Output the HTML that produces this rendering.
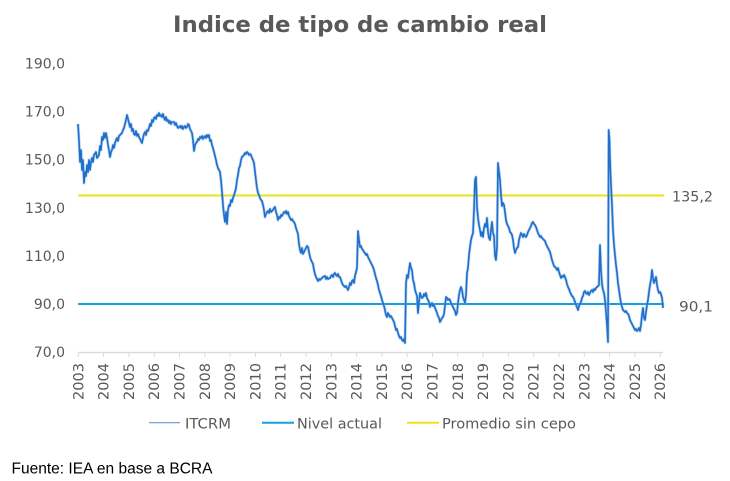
<!DOCTYPE html>
<html><head><meta charset="utf-8"><style>
html,body{margin:0;padding:0;background:#fff;}
svg{display:block;}
text{font-family:"DejaVu Sans","Liberation Sans",sans-serif;fill:#595959;}
</style></head><body>
<svg width="730" height="481" viewBox="0 0 730 481" xmlns="http://www.w3.org/2000/svg">
<defs>
<polyline id="s" points="78,124 79,140 80,162 81,150 82,170 83,160 84,183 85,172 86,176 87,165 88,172 89,160 90,170 91,162 92,158 93,162 94,155 96,152 97,158 99,155 100,146 101,150 102,137 103,140 104,133 105,138 106,133 107,138 108,145 109,150 110,157 111,152 112,150 113,145 114,148 115,143 116,140 117,138 118,141 119,136 120,135 122,133 123,130 124,128 125,124 126,120 127,115 128,119 129,123 130,127 131,124 132,131 133,129 134,134 135,135 136,131 137,136 138,134 139,137 140,139 141,141 142,143 143,138 144,134 145,132 146,135 147,130 148,131 149,128 150,124 151,126 152,120 153,122 154,118 155,117 156,119 157,115 158,116 159,113 160,116 161,115 162,117 163,114 164,118 165,120 166,117 167,121 168,120 169,123 170,121 171,124 172,122 174,122 175,125 176,123 177,126 178,128 179,127 180,126 181,128 182,126 183,129 184,127 185,126 186,128 187,127 188,124 189,125 190,129 191,131 192,133 193,140 194,151 195,145 196,143 197,142 198,139 199,140 200,137 201,138 202,136 203,139 204,137 205,136 206,138 207,135 208,137 209,135 210,141 211,140 212,145 213,148 214,152 215,156 216,160 217,165 218,168 219,170 220,172 221,180 222,192 223,205 224,215 225,222 226,212 227,224 228,210 229,205 230,206 231,200 232,202 233,198 234,195 235,192 236,188 237,180 238,175 239,168 240,166 241,160 242,157 243,156 244,155 245,153 246,154 247,152 248,153 249,155 250,154 251,155 252,158 253,160 254,163 255,172 256,180 257,188 258,193 259,195 260,198 261,200 262,201 263,205 264,210 265,217 266,214 267,212 268,211 269,213 270,209 271,212 272,211 273,210 274,208 275,207 276,212 277,215 278,220 279,217 280,218 281,215 282,216 283,214 284,212 285,213 286,211 287,214 288,212 289,216 290,218 291,220 292,219 293,221 294,222 295,224 296,228 297,231 298,234 299,244 300,250 301,253 302,248 303,254 304,252 305,250 306,248 307,246 308,247 309,252 310,257 311,260 312,262 313,264 314,270 315,274 316,277 317,279 318,281 319,279 320,280 322,278 323,277 325,276 326,279 327,277 328,279 330,278 331,276 332,275 333,277 334,274 335,273 336,275 337,276 338,274 339,277 340,277 341,280 342,283 343,285 344,286 345,287 346,286 347,288 348,290 349,287 350,283 351,285 352,281 353,280 354,283 355,276 356,272 357,268 358,231 359,240 360,247 361,246 362,249 363,250 364,252 365,253 366,255 367,254 368,257 369,259 370,261 371,263 372,265 373,267 374,270 375,274 376,278 377,281 378,285 379,290 380,293 381,296 382,300 383,303 384,306 385,310 386,315 387,317 388,313 389,315 390,317 391,316 392,318 393,320 394,322 395,326 396,330 397,329 398,333 399,336 400,338 401,337 402,340 403,341 404,339 405,343 406,283 407,275 408,278 409,270 410,263 411,268 412,270 413,280 414,283 415,290 416,293 417,296 418,313 419,302 420,293 421,296 422,298 423,297 424,294 425,296 426,293 427,298 428,300 429,302 430,307 431,305 432,303 433,306 434,305 435,308 436,310 437,313 438,316 439,318 440,322 441,320 442,318 443,317 444,314 445,306 446,297 447,298 448,300 449,299 450,300 451,303 452,305 453,307 454,309 455,311 456,315 457,313 458,303 459,295 460,290 461,287 462,290 463,297 464,300 465,303 466,295 467,273 468,268 469,255 470,247 471,240 472,236 473,233 474,210 475,180 476,177 477,207 478,218 479,225 480,230 481,236 482,232 483,237 484,228 485,224 486,227 487,218 488,232 489,238 490,240 491,230 492,222 493,233 494,236 495,256 496,260 497,247 498,163 499,172 500,180 501,195 502,206 503,203 504,205 505,212 506,220 507,224 508,226 509,228 510,232 511,233 512,235 513,240 514,248 515,253 516,250 517,248 518,247 519,240 520,236 521,233 522,235 523,237 524,234 525,236 526,237 527,235 528,232 529,230 530,228 531,226 532,223 533,222 534,224 535,225 536,227 537,230 538,233 539,235 540,237 541,236 542,238 543,239 544,240 545,241 546,244 547,246 548,248 549,250 550,252 551,256 552,260 553,263 554,266 555,267 556,268 557,270 558,268 559,272 560,275 561,278 562,276 563,277 564,275 565,277 566,280 567,284 568,287 569,289 570,292 571,294 572,296 573,297 574,299 575,302 576,305 577,307 578,310 579,306 580,304 581,302 582,298 583,296 584,292 585,291 586,293 587,294 588,292 589,295 590,293 591,291 592,290 593,292 594,289 595,290 596,288 597,287 598,286 599,285 600,245 601,270 602,284 603,290 604,293 605,300 606,312 607,325 608,342 608.7,130 609.5,140 610,160 611,185 612,205 613,230 614,245 615,255 616,265 617,273 618,283 619,290 620,297 621,303 622,307 623,310 624,311 625,312 626,311 627,313 628,314 629,316 630,320 631,322 632,324 633,326 634,328 635,330 636,329 637,331 638,330 639,328 640,331 641,325 642,315 643,308 644,318 645,320 646,312 647,305 648,300 649,292 650,285 651,280 652,270 653,278 654,283 655,280 656,277 657,285 658,290 659,293 660,292 661,294 662,298 663,308"/>
</defs>
<rect width="730" height="481" fill="#fff"/>
<text x="173" y="32" font-size="22" font-weight="bold" textLength="374" lengthAdjust="spacingAndGlyphs">Indice de tipo de cambio real</text>
<g font-size="14" text-anchor="end">
<text x="65" y="68.5">190,0</text>
<text x="65" y="116.5">170,0</text>
<text x="65" y="164.7">150,0</text>
<text x="65" y="212.8">130,0</text>
<text x="65" y="261">110,0</text>
<text x="65" y="309">90,0</text>
<text x="65" y="357">70,0</text>
</g>
<line x1="78" y1="352.5" x2="663" y2="352.5" stroke="#d9d9d9" stroke-width="1.2"/>
<g stroke="#d9d9d9" stroke-width="1">
<line x1="78.3" y1="352" x2="78.3" y2="357"/><line x1="103.6" y1="352" x2="103.6" y2="357"/><line x1="128.9" y1="352" x2="128.9" y2="357"/><line x1="154.2" y1="352" x2="154.2" y2="357"/><line x1="179.5" y1="352" x2="179.5" y2="357"/><line x1="204.8" y1="352" x2="204.8" y2="357"/><line x1="230.1" y1="352" x2="230.1" y2="357"/><line x1="255.4" y1="352" x2="255.4" y2="357"/><line x1="280.7" y1="352" x2="280.7" y2="357"/><line x1="306" y1="352" x2="306" y2="357"/><line x1="331.3" y1="352" x2="331.3" y2="357"/><line x1="356.6" y1="352" x2="356.6" y2="357"/><line x1="381.9" y1="352" x2="381.9" y2="357"/><line x1="407.2" y1="352" x2="407.2" y2="357"/><line x1="432.5" y1="352" x2="432.5" y2="357"/><line x1="457.8" y1="352" x2="457.8" y2="357"/><line x1="483.1" y1="352" x2="483.1" y2="357"/><line x1="508.4" y1="352" x2="508.4" y2="357"/><line x1="533.7" y1="352" x2="533.7" y2="357"/><line x1="559" y1="352" x2="559" y2="357"/><line x1="584.3" y1="352" x2="584.3" y2="357"/><line x1="609.6" y1="352" x2="609.6" y2="357"/><line x1="634.9" y1="352" x2="634.9" y2="357"/><line x1="660.2" y1="352" x2="660.2" y2="357"/>
</g>
<g font-size="14">
<text transform="translate(83.3,400) rotate(-90)" textLength="37" lengthAdjust="spacingAndGlyphs">2003</text>
<text transform="translate(108.6,400) rotate(-90)" textLength="37" lengthAdjust="spacingAndGlyphs">2004</text>
<text transform="translate(133.9,400) rotate(-90)" textLength="37" lengthAdjust="spacingAndGlyphs">2005</text>
<text transform="translate(159.2,400) rotate(-90)" textLength="37" lengthAdjust="spacingAndGlyphs">2006</text>
<text transform="translate(184.5,400) rotate(-90)" textLength="37" lengthAdjust="spacingAndGlyphs">2007</text>
<text transform="translate(209.8,400) rotate(-90)" textLength="37" lengthAdjust="spacingAndGlyphs">2008</text>
<text transform="translate(235.1,400) rotate(-90)" textLength="37" lengthAdjust="spacingAndGlyphs">2009</text>
<text transform="translate(260.4,400) rotate(-90)" textLength="37" lengthAdjust="spacingAndGlyphs">2010</text>
<text transform="translate(285.7,400) rotate(-90)" textLength="37" lengthAdjust="spacingAndGlyphs">2011</text>
<text transform="translate(311,400) rotate(-90)" textLength="37" lengthAdjust="spacingAndGlyphs">2012</text>
<text transform="translate(336.3,400) rotate(-90)" textLength="37" lengthAdjust="spacingAndGlyphs">2013</text>
<text transform="translate(361.6,400) rotate(-90)" textLength="37" lengthAdjust="spacingAndGlyphs">2014</text>
<text transform="translate(386.9,400) rotate(-90)" textLength="37" lengthAdjust="spacingAndGlyphs">2015</text>
<text transform="translate(412.2,400) rotate(-90)" textLength="37" lengthAdjust="spacingAndGlyphs">2016</text>
<text transform="translate(437.5,400) rotate(-90)" textLength="37" lengthAdjust="spacingAndGlyphs">2017</text>
<text transform="translate(462.8,400) rotate(-90)" textLength="37" lengthAdjust="spacingAndGlyphs">2018</text>
<text transform="translate(488.1,400) rotate(-90)" textLength="37" lengthAdjust="spacingAndGlyphs">2019</text>
<text transform="translate(513.4,400) rotate(-90)" textLength="37" lengthAdjust="spacingAndGlyphs">2020</text>
<text transform="translate(538.7,400) rotate(-90)" textLength="37" lengthAdjust="spacingAndGlyphs">2021</text>
<text transform="translate(564,400) rotate(-90)" textLength="37" lengthAdjust="spacingAndGlyphs">2022</text>
<text transform="translate(589.3,400) rotate(-90)" textLength="37" lengthAdjust="spacingAndGlyphs">2023</text>
<text transform="translate(614.6,400) rotate(-90)" textLength="37" lengthAdjust="spacingAndGlyphs">2024</text>
<text transform="translate(639.9,400) rotate(-90)" textLength="37" lengthAdjust="spacingAndGlyphs">2025</text>
<text transform="translate(665.2,400) rotate(-90)" textLength="37" lengthAdjust="spacingAndGlyphs">2026</text>
</g>
<line x1="78" y1="195.5" x2="664" y2="195.5" stroke="#eee21a" stroke-width="2"/>
<line x1="78" y1="304" x2="664" y2="304" stroke="#12a0e0" stroke-width="2"/>
<use href="#s" fill="none" stroke="#7fb0e6" stroke-width="3" stroke-opacity="0.55" stroke-linejoin="round"/>
<use href="#s" fill="none" stroke="#1f6fcc" stroke-width="1.6" stroke-linejoin="round"/>
<text x="672" y="201.5" font-size="14" textLength="41" lengthAdjust="spacingAndGlyphs">135,2</text>
<text x="679" y="311.5" font-size="14" textLength="34" lengthAdjust="spacingAndGlyphs">90,1</text>
<line x1="149" y1="422.7" x2="180" y2="422.7" stroke="#5b9bd5" stroke-width="1.2"/>
<text x="185" y="428.3" font-size="14" textLength="46" lengthAdjust="spacingAndGlyphs">ITCRM</text>
<line x1="262" y1="422.7" x2="294" y2="422.7" stroke="#12a0e0" stroke-width="2"/>
<text x="297" y="428.3" font-size="14" textLength="85" lengthAdjust="spacingAndGlyphs">Nivel actual</text>
<line x1="407" y1="422.7" x2="439" y2="422.7" stroke="#eee21a" stroke-width="2"/>
<text x="442" y="428.3" font-size="14" textLength="134" lengthAdjust="spacingAndGlyphs">Promedio sin cepo</text>
<text x="11.5" y="473.3" font-size="15.5" style="font-family:'Liberation Sans',sans-serif;fill:#000" textLength="201" lengthAdjust="spacingAndGlyphs">Fuente: IEA en base a BCRA</text>
</svg>
</body></html>
